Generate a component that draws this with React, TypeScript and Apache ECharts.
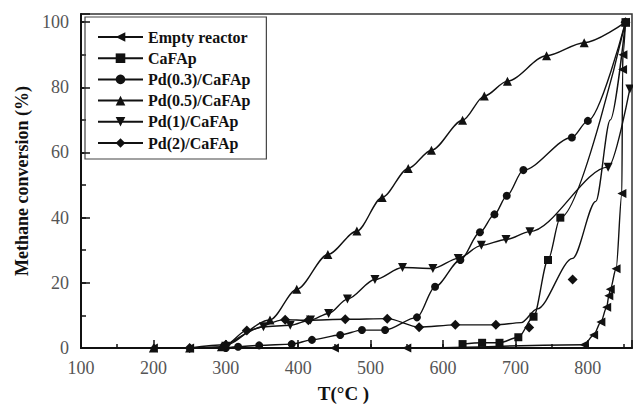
import React, { useEffect, useRef } from 'react';
import * as echarts from 'echarts';

const seriesNames = ['Empty reactor', 'CaFAp', 'Pd(0.3)/CaFAp', 'Pd(0.5)/CaFAp', 'Pd(1)/CaFAp', 'Pd(2)/CaFAp'];

const emptyReactor: number[][] = [
  [200, 0], [250, 0], [450, 0], [550, 0], [795, 1], [808, 4], [818, 8], [826, 12.5],
  [829, 16], [831, 18], [839, 24.3], [847, 47.4], [848, 85.5], [848.5, 90], [852, 100],
];
const caFAp: number[][] = [
  [627, 1.2], [654, 1.6], [678, 1.6], [704, 3.3], [725, 9.6], [745, 27], [762, 40], [852, 100],
];
const pd03: number[][] = [
  [300, 0], [317, 0.4], [346, 0.8], [391, 1.2], [419, 2.5], [458, 4], [488, 5.5], [520, 5.5],
  [564, 9.4], [589, 18.8], [624, 27], [651, 35.5], [671, 41], [688, 46.7], [711, 54.6],
  [778, 64.6], [800, 69.7], [852, 100],
];
const pd05: number[][] = [
  [200, 0], [250, 0], [294, 0.4], [361, 8.6], [398, 18], [441, 28.7], [481, 35.9], [516, 46.2],
  [552, 55.1], [584, 60.7], [627, 69.9], [657, 77.3], [689, 81.9], [743, 89.7], [795, 93.7], [852, 100],
];
const pd1: number[][] = [
  [300, 0.5], [352, 6.5], [389, 7], [417, 8.6], [442, 10.6], [468, 15], [506, 21], [544, 24.7],
  [586, 24.4], [621, 27.5], [653, 31.5], [687, 33.3], [720, 35.7], [828, 55.5], [858, 79.5],
];
const pd2: number[][] = [
  [250, 0], [300, 1], [329, 5.4], [382, 8.7], [414, 8.5], [465, 8.8], [523, 9], [567, 6.4],
  [617, 7.1], [673, 7.1], [852, 100],
];
// points on the Pd(2) curve that carry no marker
const pd2CurveOnly: number[][] = [[708, 7.8], [730, 12], [779, 27.5], [811, 45], [831, 70]];
// isolated Pd(2) markers off the curve
const pd2Outliers: number[][] = [[719, 6.3], [779, 21]];

const xTickLabels = [100, 200, 300, 400, 500, 600, 700, 800];
const yTickLabels = [0, 20, 40, 60, 80, 100];

const FONT = 'Liberation Serif';
const INK = '#111';

export default function App() {
  const ref = useRef<HTMLDivElement>(null);
  useEffect(() => {
    if (!ref.current) return;
    const chart = echarts.init(ref.current, undefined, { renderer: 'svg' });

    const pd2Data: any[] = [
      ...pd2.map((v) => ({ value: v })),
      ...pd2CurveOnly.map((v) => ({ value: v, symbol: 'none' })),
    ].sort((a, b) => a.value[0] - b.value[0]);

    const base = {
      type: 'line' as const,
      smooth: 0.3,
      smoothMonotone: 'x' as const,
      xAxisIndex: 0,
      yAxisIndex: 0,
      lineStyle: { color: INK, width: 1.4 },
      itemStyle: { color: INK },
      clip: true,
    };

    const option: any = {
      animation: false,
      backgroundColor: '#fff',
      grid: { left: 81, right: 1, top: 14, bottom: 66, show: true, borderColor: '#333', borderWidth: 1.5 },
      legend: {
        data: seriesNames,
        orient: 'vertical',
        left: 85,
        top: 17,
        itemWidth: 45,
        itemHeight: 12,
        itemGap: 5.2,
        padding: [12, 16, 8, 12],
        borderColor: '#444',
        borderWidth: 1.2,
        textStyle: { fontFamily: FONT, fontWeight: 'bold', fontSize: 16, color: INK },
      },
      xAxis: [
        {
          type: 'value',
          min: 100,
          max: 861,
          interval: 50,
          position: 'bottom',
          axisLine: { show: true, lineStyle: { color: INK, width: 2 } },
          axisTick: { show: true, inside: true, length: 4, lineStyle: { color: INK, width: 1.5 } },
          axisLabel: {
            formatter: (v: number) => (xTickLabels.includes(v) ? String(v) : ''),
            showMaxLabel: false,
            fontFamily: FONT,
            fontSize: 18,
            color: '#555',
            margin: 11,
          },
          splitLine: { show: false },
          name: 'T(°C )',
          nameLocation: 'middle',
          nameGap: 36,
          nameTextStyle: { fontFamily: FONT, fontWeight: 'bold', fontSize: 19, color: INK, padding: [0, 26, 0, 0] },
        },
        {
          type: 'value',
          min: 100,
          max: 861,
          interval: 100,
          position: 'bottom',
          axisLine: { show: false },
          axisTick: { show: true, inside: true, length: 8, lineStyle: { color: INK, width: 1.5 } },
          axisLabel: { show: false },
          splitLine: { show: false },
        },
      ],
      yAxis: [
        {
          type: 'value',
          min: 0,
          max: 102.5,
          interval: 10,
          position: 'left',
          axisLine: { show: true, lineStyle: { color: INK, width: 2 } },
          axisTick: { show: true, inside: true, length: 5, lineStyle: { color: INK, width: 1.5 } },
          axisLabel: {
            formatter: (v: number) => (yTickLabels.includes(v) ? String(v) : ''),
            showMaxLabel: false,
            fontFamily: FONT,
            fontSize: 18,
            color: '#555',
            margin: 12,
          },
          splitLine: { show: false },
          name: 'Methane conversion (%)',
          nameLocation: 'middle',
          nameGap: 49,
          nameTextStyle: { fontFamily: FONT, fontWeight: 'bold', fontSize: 18, color: INK },
        },
        {
          type: 'value',
          min: 0,
          max: 102.5,
          interval: 20,
          position: 'left',
          axisLine: { show: false },
          axisTick: { show: true, inside: true, length: 9, lineStyle: { color: INK, width: 1.5 } },
          axisLabel: { show: false },
          splitLine: { show: false },
        },
      ],
      series: [
        { ...base, name: seriesNames[0], data: emptyReactor, symbol: 'triangle', symbolSize: 9, symbolRotate: 90 },
        { ...base, name: seriesNames[1], data: caFAp, symbol: 'rect', symbolSize: 8 },
        { ...base, name: seriesNames[2], data: pd03, symbol: 'circle', symbolSize: 8 },
        { ...base, name: seriesNames[3], data: pd05, symbol: 'triangle', symbolSize: 9 },
        { ...base, name: seriesNames[4], data: pd1, symbol: 'triangle', symbolSize: 9, symbolRotate: 180 },
        {
          ...base,
          name: seriesNames[5],
          data: pd2Data,
          symbol: 'diamond',
          symbolSize: 10,
          markPoint: {
            silent: true,
            symbol: 'diamond',
            symbolSize: 10,
            itemStyle: { color: INK },
            label: { show: false },
            data: pd2Outliers.map((c) => ({ coord: c })),
          },
        },
      ],
    };
    chart.setOption(option);
    return () => chart.dispose();
  }, []);
  return <div ref={ref} style={{ position: 'fixed', left: 0, top: 0, width: 633, height: 414 }} />;
}
